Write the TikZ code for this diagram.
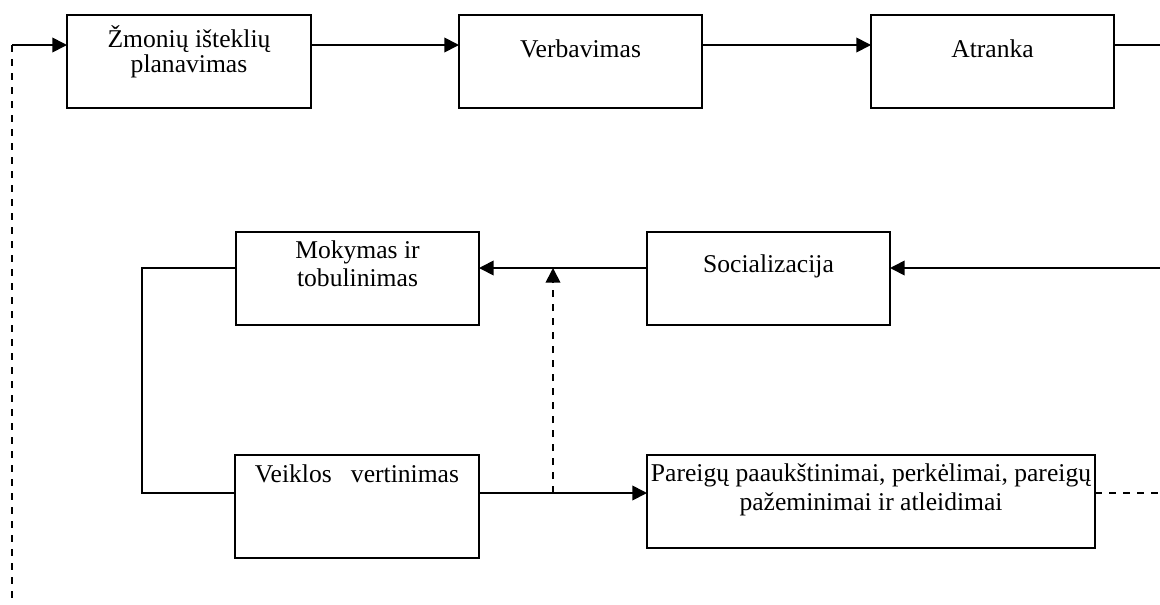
\documentclass[tikz,border=0pt]{standalone}
\usepackage{fontspec}
\setmainfont{Liberation Serif}
\usetikzlibrary{arrows.meta}

\tikzset{every picture/.style={line width=1.3pt}}
\tikzset{
  stage/.style={draw, rectangle, inner sep=0pt, outer sep=0pt, minimum width=182.25pt, minimum height=69.75pt},
  caption/.style={inner sep=0pt, align=center, font=\fontsize{19.2pt}{21.6pt}\selectfont},
  flow/.style={-{Triangle[length=11pt,width=11pt]}},
  loose/.style={dash pattern=on 5.5pt off 5pt}
}

\begin{document}
\begin{tikzpicture}[x=0.75pt,y=0.75pt,yscale=-1,xscale=1]
\useasboundingbox (0,0) rectangle (1160,604);

% rows of connectors and free ends
\coordinate (row1) at (0,45);
\coordinate (row2) at (0,268);
\coordinate (row3) at (0,493);
\coordinate (edgeR) at (1160,0);
\coordinate (edgeB) at (0,604);
\coordinate (lft) at (12,0);
\coordinate (loopL) at (142,0);
\coordinate (fb) at (553,0);

% boxes
\node[stage, minimum width=183pt] (plan) at (189,61.5) {};
\node[stage] (verb) at (580.5,61.5) {};
\node[stage] (atr) at (992.5,61.5) {};
\node[stage] (mok) at (357.5,278.5) {};
\node[stage] (soc) at (768.5,278.5) {};
\node[stage, minimum width=183pt, minimum height=77.25pt] (veik) at (357,506.5) {};
\node[stage, minimum width=336pt] (par) at (871,501.5) {};

% texts
\node[caption, anchor=north, font=\fontsize{19.2pt}{18.2pt}\selectfont] (planT) at (189,25) {Žmonių išteklių\\planavimas};
\node[caption, anchor=base] (verbT) at (580.5,57) {Verbavimas};
\node[caption, anchor=base] (atrT) at (992.5,57) {Atranka};
\node[caption, anchor=north] (mokT) at (357.5,239.5) {Mokymas ir\\tobulinimas};
\node[caption, anchor=base] (socT) at (768.5,272) {Socializacija};
\node[caption, anchor=base] (veikT) at (357,482) {Veiklos\hspace{0.75em}vertinimas};
\node[caption, anchor=north] (parT) at (871,463) {Pareigų paaukštinimai, perkėlimai, pareigų\\pažeminimai ir atleidimai};

% connectors
\draw[flow] (plan.east|-row1) -- (verb.west|-row1);
\draw[flow] (verb.east|-row1) -- (atr.west|-row1);
\draw (atr.east|-row1) -- (edgeR|-row1);
\draw[flow] (edgeR|-row2) -- (soc.east|-row2);
\draw[flow] (soc.west|-row2) -- (mok.east|-row2);
\draw (mok.west|-row2) -- (loopL|-row2) -- (loopL|-row3) -- (veik.west|-row3);
\draw[flow] (veik.east|-row3) -- (par.west|-row3);
\draw[flow, loose] (fb|-row3) -- (fb|-row2);
\draw[loose] (par.east|-row3) -- (edgeR|-row3);
\draw[loose] (lft|-row1) -- (lft|-edgeB);
\draw[flow] (lft|-row1) -- (plan.west|-row1);

\end{tikzpicture}
\end{document}
